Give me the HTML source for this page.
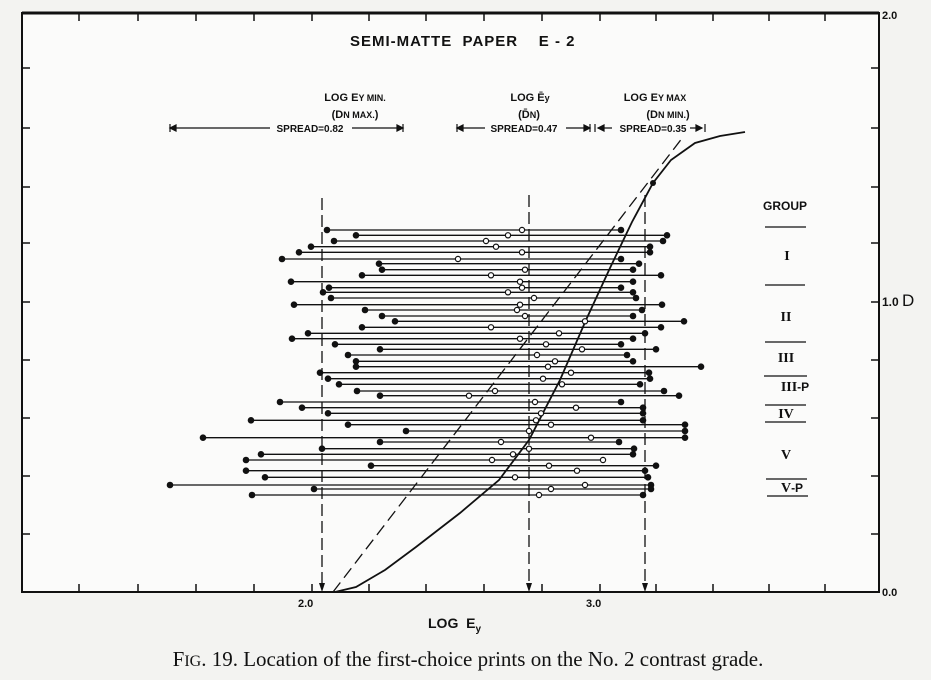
<!DOCTYPE html>
<html><head><meta charset="utf-8"><style>
html,body{margin:0;padding:0;background:#f3f3f1;}
svg{display:block}
</style></head><body>
<svg width="931" height="680" viewBox="0 0 931 680" xmlns="http://www.w3.org/2000/svg" font-family="Liberation Sans, sans-serif">
<rect width="931" height="680" fill="#f3f3f1"/>
<rect x="22" y="13" width="857" height="579" fill="#fbfbfa" stroke="#111" stroke-width="2"/>
<line x1="22" y1="13" x2="879" y2="13" stroke="#111" stroke-width="3"/>
<g stroke="#111" stroke-width="1.5">
<path d="M79 13v8M138 13v8M196 13v8M254 13v8M312 13v8M369 13v8M426 13v8M484 13v8M542 13v8M600 13v8M656 13v8M713 13v8M769 13v8M825 13v8"/>
<path d="M79 592v-8M138 592v-8M196 592v-8M254 592v-8M312 592v-8M369 592v-8M426 592v-8M484 592v-8M542 592v-8M600 592v-8M656 592v-8M713 592v-8M769 592v-8M825 592v-8"/>
<path d="M22 68h8M22 128h8M22 187h8M22 243h8M22 302h8M22 360h8M22 418h8M22 476h8M22 534h8"/>
<path d="M879 68h-8M879 128h-8M879 187h-8M879 243h-8M879 302h-8M879 360h-8M879 418h-8M879 476h-8M879 534h-8"/>
</g>
<g font-size="11" font-weight="bold" fill="#111">
<text x="882" y="19">2.0</text>
<text x="882" y="306" font-size="12">1.0 <tspan font-size="17" font-weight="normal">D</tspan></text>
<text x="882" y="596">0.0</text>
<text x="298" y="607">2.0</text>
<text x="586" y="607">3.0</text>
</g>
<text x="428" y="628" font-size="14" font-weight="bold" fill="#111">LOG &#160;E<tspan font-size="10" dy="4">y</tspan></text>
<text x="350" y="46" font-size="15" font-weight="bold" fill="#111" letter-spacing="1">SEMI-MATTE &#160;PAPER &#160;&#160; E - 2</text>
<g font-size="11" font-weight="bold" fill="#111" text-anchor="middle">
<text x="355" y="101">LOG E<tspan font-size="9">Y MIN.</tspan></text>
<text x="355" y="118">(D<tspan font-size="9">N MAX.</tspan>)</text>
<text x="530" y="101">LOG Ē<tspan font-size="9">y</tspan></text>
<text x="529" y="118">(D̄<tspan font-size="9">N</tspan>)</text>
<text x="655" y="101">LOG E<tspan font-size="9">Y MAX</tspan></text>
<text x="668" y="118">(D<tspan font-size="9">N MIN.</tspan>)</text>
<text x="310" y="132" font-size="10">SPREAD=0.82</text>
<text x="524" y="132" font-size="10">SPREAD=0.47</text>
<text x="653" y="132" font-size="10">SPREAD=0.35</text>
</g>
<g stroke="#111" stroke-width="1.2" fill="none">
<path d="M170 128h100M352 128h48M170 124v8M403 124v8M457 124v8M590 124v8M595 124v8M705 124v8M457 128h28M566 128h22M598 128h14M690 128h12"/>
<path d="M170 128l6-3v6zM403 128l-6-3v6zM457 128l6-3v6zM590 128l-6-3v6zM598 128l6-3v6zM702 128l-6-3v6z" fill="#111"/>
</g>
<g stroke="#111" stroke-width="1.3" stroke-dasharray="12,5">
<line x1="322" y1="198" x2="322" y2="588"/>
<line x1="529" y1="195" x2="529" y2="588"/>
<line x1="645" y1="195" x2="645" y2="588"/>
</g>
<g fill="#111"><path d="M322 592l-3-9h6zM529 592l-3-9h6zM645 592l-3-9h6z"/></g>
<line x1="333" y1="592" x2="683" y2="137" stroke="#111" stroke-width="1.3" stroke-dasharray="12,6"/>
<polyline fill="none" stroke="#111" stroke-width="1.8" points="335,592 356,587 385,570 416,547 460,513 499,480 529,440 560,380 586,320 610,268 632,222 653,183 671,160 695,143 720,136 745,132"/>
<circle cx="653" cy="183" r="3" fill="#111"/>
<g font-size="12" font-weight="bold" fill="#111" text-anchor="middle">
<text x="785" y="210">GROUP</text>
<text x="787" y="260" font-family="Liberation Serif, serif" font-size="14">I</text>
<text x="786" y="321" font-family="Liberation Serif, serif" font-size="14">II</text>
<text x="786" y="362" font-family="Liberation Serif, serif" font-size="14">III</text>
<text x="795" y="391"><tspan font-family="Liberation Serif, serif" font-size="14">III</tspan>-P</text>
<text x="786" y="418" font-family="Liberation Serif, serif" font-size="14">IV</text>
<text x="786" y="459" font-family="Liberation Serif, serif" font-size="14">V</text>
<text x="792" y="492"><tspan font-family="Liberation Serif, serif" font-size="14">V</tspan>-P</text>
</g>
<g stroke="#111" stroke-width="1.3">
<path d="M765 227h41M765 285h40M765 342h41M764 376h43M765 405h41M765 422h41M766 479h41M767 496h41"/>
</g>
<g stroke="#111" stroke-width="1.3">
<path d="M327 230H621M356 235.3H667M334 241H663M311 246.7H650M299 252.3H650M282 259H621M379 263.7H639M382 269.7H633M362 275.3H661M291 281.7H633M329 287.7H621M323 292.3H633M331 298H636M294 304.7H662M365 310H642M382 316H633M395 321.3H684M362 327.3H661M308 333.3H645M292 338.7H633M335 344.3H621M380 349.3H656M348 355H627M356 361.3H633M356 366.7H701M320 372.7H649M328 378.7H650M339 384.3H640M357 391H664M380 395.7H679M280 402H621M302 407.7H643M328 413.3H643M251 420.3H643M348 424.7H685M406 431H685M203 437.7H685M380 442H619M322 448.7H634M261 454.3H633M246 460H603M371 465.7H656M246 470.7H645M265 477.3H648M170 485H651M314 489H651M252 495H643"/>
</g>
<g fill="#111">
<circle cx="327" cy="230" r="3.3"/><circle cx="621" cy="230" r="3.3"/>
<circle cx="356" cy="235.3" r="3.3"/><circle cx="667" cy="235.3" r="3.3"/>
<circle cx="334" cy="241" r="3.3"/><circle cx="663" cy="241" r="3.3"/>
<circle cx="311" cy="246.7" r="3.3"/><circle cx="650" cy="246.7" r="3.3"/>
<circle cx="299" cy="252.3" r="3.3"/><circle cx="650" cy="252.3" r="3.3"/>
<circle cx="282" cy="259" r="3.3"/><circle cx="621" cy="259" r="3.3"/>
<circle cx="379" cy="263.7" r="3.3"/><circle cx="639" cy="263.7" r="3.3"/>
<circle cx="382" cy="269.7" r="3.3"/><circle cx="633" cy="269.7" r="3.3"/>
<circle cx="362" cy="275.3" r="3.3"/><circle cx="661" cy="275.3" r="3.3"/>
<circle cx="291" cy="281.7" r="3.3"/><circle cx="633" cy="281.7" r="3.3"/>
<circle cx="329" cy="287.7" r="3.3"/><circle cx="621" cy="287.7" r="3.3"/>
<circle cx="323" cy="292.3" r="3.3"/><circle cx="633" cy="292.3" r="3.3"/>
<circle cx="331" cy="298" r="3.3"/><circle cx="636" cy="298" r="3.3"/>
<circle cx="294" cy="304.7" r="3.3"/><circle cx="662" cy="304.7" r="3.3"/>
<circle cx="365" cy="310" r="3.3"/><circle cx="642" cy="310" r="3.3"/>
<circle cx="382" cy="316" r="3.3"/><circle cx="633" cy="316" r="3.3"/>
<circle cx="395" cy="321.3" r="3.3"/><circle cx="684" cy="321.3" r="3.3"/>
<circle cx="362" cy="327.3" r="3.3"/><circle cx="661" cy="327.3" r="3.3"/>
<circle cx="308" cy="333.3" r="3.3"/><circle cx="645" cy="333.3" r="3.3"/>
<circle cx="292" cy="338.7" r="3.3"/><circle cx="633" cy="338.7" r="3.3"/>
<circle cx="335" cy="344.3" r="3.3"/><circle cx="621" cy="344.3" r="3.3"/>
<circle cx="380" cy="349.3" r="3.3"/><circle cx="656" cy="349.3" r="3.3"/>
<circle cx="348" cy="355" r="3.3"/><circle cx="627" cy="355" r="3.3"/>
<circle cx="356" cy="361.3" r="3.3"/><circle cx="633" cy="361.3" r="3.3"/>
<circle cx="356" cy="366.7" r="3.3"/><circle cx="701" cy="366.7" r="3.3"/>
<circle cx="320" cy="372.7" r="3.3"/><circle cx="649" cy="372.7" r="3.3"/>
<circle cx="328" cy="378.7" r="3.3"/><circle cx="650" cy="378.7" r="3.3"/>
<circle cx="339" cy="384.3" r="3.3"/><circle cx="640" cy="384.3" r="3.3"/>
<circle cx="357" cy="391" r="3.3"/><circle cx="664" cy="391" r="3.3"/>
<circle cx="380" cy="395.7" r="3.3"/><circle cx="679" cy="395.7" r="3.3"/>
<circle cx="280" cy="402" r="3.3"/><circle cx="621" cy="402" r="3.3"/>
<circle cx="302" cy="407.7" r="3.3"/><circle cx="643" cy="407.7" r="3.3"/>
<circle cx="328" cy="413.3" r="3.3"/><circle cx="643" cy="413.3" r="3.3"/>
<circle cx="251" cy="420.3" r="3.3"/><circle cx="643" cy="420.3" r="3.3"/>
<circle cx="348" cy="424.7" r="3.3"/><circle cx="685" cy="424.7" r="3.3"/>
<circle cx="406" cy="431" r="3.3"/><circle cx="685" cy="431" r="3.3"/>
<circle cx="203" cy="437.7" r="3.3"/><circle cx="685" cy="437.7" r="3.3"/>
<circle cx="380" cy="442" r="3.3"/><circle cx="619" cy="442" r="3.3"/>
<circle cx="322" cy="448.7" r="3.3"/><circle cx="634" cy="448.7" r="3.3"/>
<circle cx="261" cy="454.3" r="3.3"/><circle cx="633" cy="454.3" r="3.3"/>
<circle cx="246" cy="460" r="3.3"/>
<circle cx="371" cy="465.7" r="3.3"/><circle cx="656" cy="465.7" r="3.3"/>
<circle cx="246" cy="470.7" r="3.3"/><circle cx="645" cy="470.7" r="3.3"/>
<circle cx="265" cy="477.3" r="3.3"/><circle cx="648" cy="477.3" r="3.3"/>
<circle cx="170" cy="485" r="3.3"/><circle cx="651" cy="485" r="3.3"/>
<circle cx="314" cy="489" r="3.3"/><circle cx="651" cy="489" r="3.3"/>
<circle cx="252" cy="495" r="3.3"/><circle cx="643" cy="495" r="3.3"/>
</g>
<g fill="#fff" stroke="#111" stroke-width="1.2">
<circle cx="522" cy="230" r="2.6"/><circle cx="508" cy="235.3" r="2.6"/><circle cx="486" cy="241" r="2.6"/>
<circle cx="496" cy="246.7" r="2.6"/><circle cx="522" cy="252.3" r="2.6"/><circle cx="458" cy="259" r="2.6"/>
<circle cx="525" cy="269.7" r="2.6"/><circle cx="491" cy="275.3" r="2.6"/><circle cx="520" cy="281.7" r="2.6"/>
<circle cx="522" cy="287.7" r="2.6"/><circle cx="508" cy="292.3" r="2.6"/><circle cx="534" cy="298" r="2.6"/>
<circle cx="520" cy="304.7" r="2.6"/><circle cx="517" cy="310" r="2.6"/><circle cx="525" cy="316" r="2.6"/>
<circle cx="585" cy="321.3" r="2.6"/><circle cx="491" cy="327.3" r="2.6"/><circle cx="559" cy="333.3" r="2.6"/>
<circle cx="520" cy="338.7" r="2.6"/><circle cx="546" cy="344.3" r="2.6"/><circle cx="582" cy="349.3" r="2.6"/>
<circle cx="537" cy="355" r="2.6"/><circle cx="555" cy="361.3" r="2.6"/><circle cx="548" cy="366.7" r="2.6"/>
<circle cx="571" cy="372.7" r="2.6"/><circle cx="543" cy="378.7" r="2.6"/><circle cx="562" cy="384.3" r="2.6"/>
<circle cx="495" cy="391" r="2.6"/><circle cx="469" cy="395.7" r="2.6"/><circle cx="535" cy="402" r="2.6"/>
<circle cx="576" cy="407.7" r="2.6"/><circle cx="541" cy="413.3" r="2.6"/><circle cx="536" cy="420.3" r="2.6"/>
<circle cx="551" cy="424.7" r="2.6"/><circle cx="529" cy="431" r="2.6"/><circle cx="591" cy="437.7" r="2.6"/>
<circle cx="501" cy="442" r="2.6"/><circle cx="529" cy="448.7" r="2.6"/><circle cx="513" cy="454.3" r="2.6"/>
<circle cx="492" cy="460" r="2.6"/><circle cx="603" cy="460" r="2.6"/><circle cx="549" cy="465.7" r="2.6"/>
<circle cx="577" cy="470.7" r="2.6"/><circle cx="515" cy="477.3" r="2.6"/><circle cx="585" cy="485" r="2.6"/>
<circle cx="551" cy="489" r="2.6"/><circle cx="539" cy="495" r="2.6"/>
</g>
<text x="468" y="666" text-anchor="middle" font-family="Liberation Serif, serif" font-size="21" fill="#111">F<tspan font-size="16">IG</tspan>. 19. Location of the first-choice prints on the No. 2 contrast grade.</text>
</svg>
</body></html>
